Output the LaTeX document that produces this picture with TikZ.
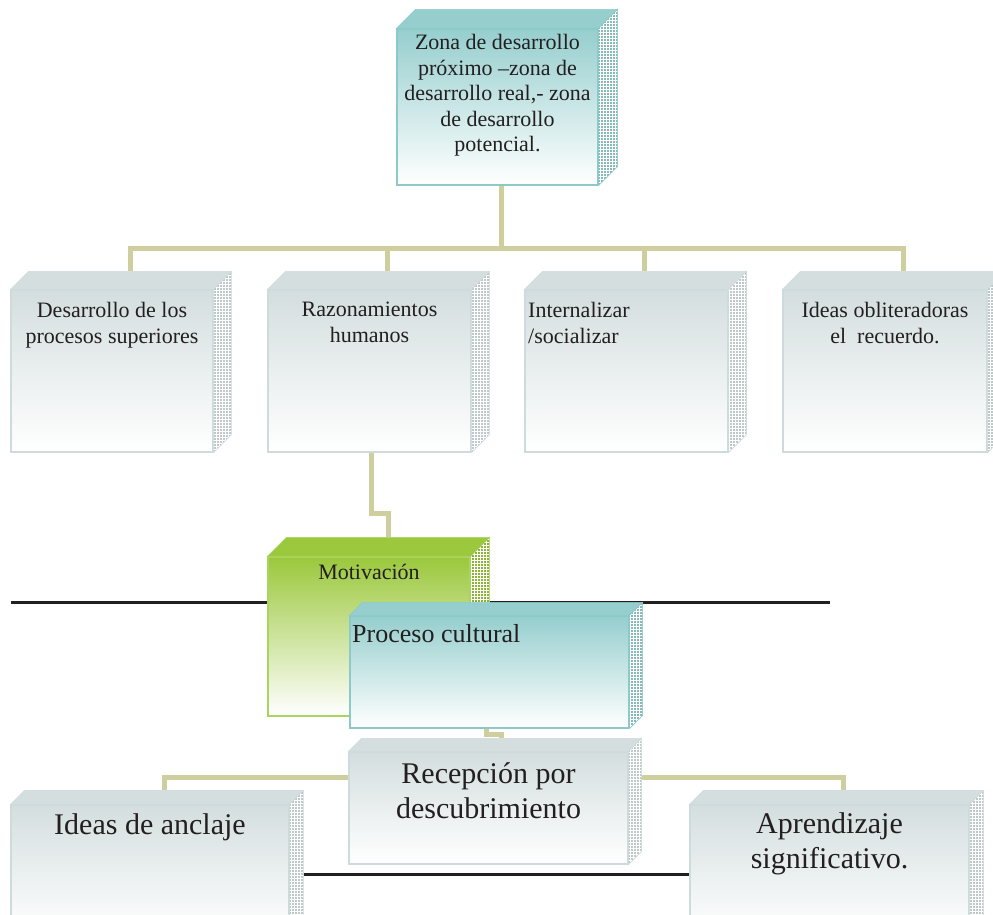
\documentclass[tikz,border=0pt]{standalone}
\usepackage{fontspec}
\setmainfont{Liberation Serif}
\usetikzlibrary{fit,patterns,backgrounds}

\definecolor{tealtop}{RGB}{150,206,206}
\definecolor{tealedge}{RGB}{140,202,202}
\definecolor{greytop}{RGB}{212,222,223}
\definecolor{greyedge}{RGB}{206,219,221}
\definecolor{greentop}{RGB}{155,200,60}
\definecolor{greenedge}{RGB}{168,212,96}
\definecolor{linkc}{RGB}{206,206,158}
\definecolor{ink}{RGB}{35,31,32}

\tikzset{
  front/.style={draw=#1edge, line width=1.2pt, inner sep=0pt,
    top color=#1top, middle color=#1top!45!white, bottom color=white},
  topface/.style={fill=#1top, draw=#1edge, line width=0.6pt},
  sideface/.style={preaction={fill=#1top!90!black}, pattern=grid,
    pattern color=white, draw=#1edge, line width=0.6pt},
  link/.style={draw=linkc, line width=5pt},
  rule/.style={draw=ink, line width=3pt},
  boxtxt/.style={inner sep=0pt, text=ink, align=center},
  txtA/.style={boxtxt, font=\fontsize{22}{25.6}\selectfont},
  txtB/.style={boxtxt, font=\fontsize{26}{30}\selectfont},
  txtC/.style={boxtxt, font=\fontsize{30}{35}\selectfont},
}

% box with a shaded front, a top and a hatched right side
\newcommand\cuboid[5]{%
  \node[front=#5, fit={#2 #3}] (#1) {};
  \path[topface=#5] (#1.north west) -- ++(#4,-#4)
    -- ([shift={(#4,-#4)}]#1.north east) -- (#1.north east) -- cycle;
  \path[sideface=#5] (#1.north east) -- ++(#4,-#4)
    -- ([shift={(#4,-#4)}]#1.south east) -- (#1.south east) -- cycle;
  \coordinate (#1-top) at ([shift={(#4,-#4)}]#1.north);
}

\begin{document}
\begin{tikzpicture}[x=1pt,y=-1pt]
\useasboundingbox (0,0) rectangle (993,914);
\clip (0,0) rectangle (993,914);

\cuboid{zona}{(397,29)}{(598,185)}{19}{teal}
\node[txtA, anchor=north] (zona-t) at (zona.north |- 0,34)
  {Zona de desarrollo\\ próximo –zona de\\ desarrollo real,- zona\\ de desarrollo\\ potencial.};

\cuboid{procsup}{(11,290)}{(213,452)}{18}{grey}
\cuboid{razon}{(268,290)}{(471,452)}{18}{grey}
\cuboid{intern}{(525,290)}{(728,452)}{18}{grey}
\cuboid{ideasob}{(783,290)}{(987,452)}{18}{grey}
\node[txtA, anchor=north] (procsup-t) at (procsup.north |- 0,302)
  {Desarrollo de los\\ procesos superiores};
\node[txtA, anchor=north] (razon-t) at (razon.north |- 0,302)
  {Razonamientos\\ humanos};
\node[txtA, align=left, anchor=north west] (intern-t) at (528,302)
  {Internalizar\\ /socializar};
\node[txtA, anchor=north] (ideasob-t) at (ideasob.north |- 0,302)
  {Ideas obliteradoras\\ el\ \ recuerdo.};

\cuboid{moti}{(268,557)}{(470,716)}{19}{green}
\node[txtA, anchor=north] (moti-t) at (moti.north |- 0,564) {Motivación};

\cuboid{proc}{(350,616)}{(629,728)}{13}{teal}
\node[txtB, anchor=north west] (proc-t) at (352,624) {Proceso cultural};

\cuboid{recep}{(349,752)}{(628,864)}{13}{grey}
\node[txtC, anchor=north] (recep-t) at (recep.north |- 0,762)
  {Recepción por\\ descubrimiento};

\cuboid{ancla}{(11,805)}{(289,935)}{14}{grey}
\cuboid{aprend}{(690,805)}{(969,935)}{14}{grey}
\node[txtC, anchor=north] (ancla-t) at (ancla.north |- 0,813) {Ideas de anclaje};
\node[txtC, anchor=north] (aprend-t) at (aprend.north |- 0,812)
  {Aprendizaje\\ significativo.};

\begin{pgfonlayer}{background}
  % connectors
  \draw[link] ([xshift=4pt]zona.south) -- ++(0,63) coordinate (hub);
  \draw[link] (procsup-top) |- (hub) -| (ideasob-top);
  \draw[link] (razon-top) -- (razon-top |- hub);
  \draw[link] (intern-top) -- (intern-top |- hub);
  \draw[link] ([xshift=2pt]razon.south) -- ++(0,61) -| (moti-top);
  \draw[link] ([xshift=-3pt]proc.south) -- ++(0,6) -| (recep-top);
  \coordinate (rhub) at ([yshift=-26pt]recep.north);
  \draw[link] (ancla-top) |- (rhub) -| (aprend-top);
  % black rules
  \coordinate (ruleA) at (11,602);
  \coordinate (ruleB) at (830,602);
  \coordinate (ruleC) at (303,874);
  \coordinate (ruleD) at (690,874);
  \draw[rule] (ruleA) -- (ruleB);
  \draw[rule] (ruleC) -- (ruleD);
\end{pgfonlayer}
\end{tikzpicture}
\end{document}
